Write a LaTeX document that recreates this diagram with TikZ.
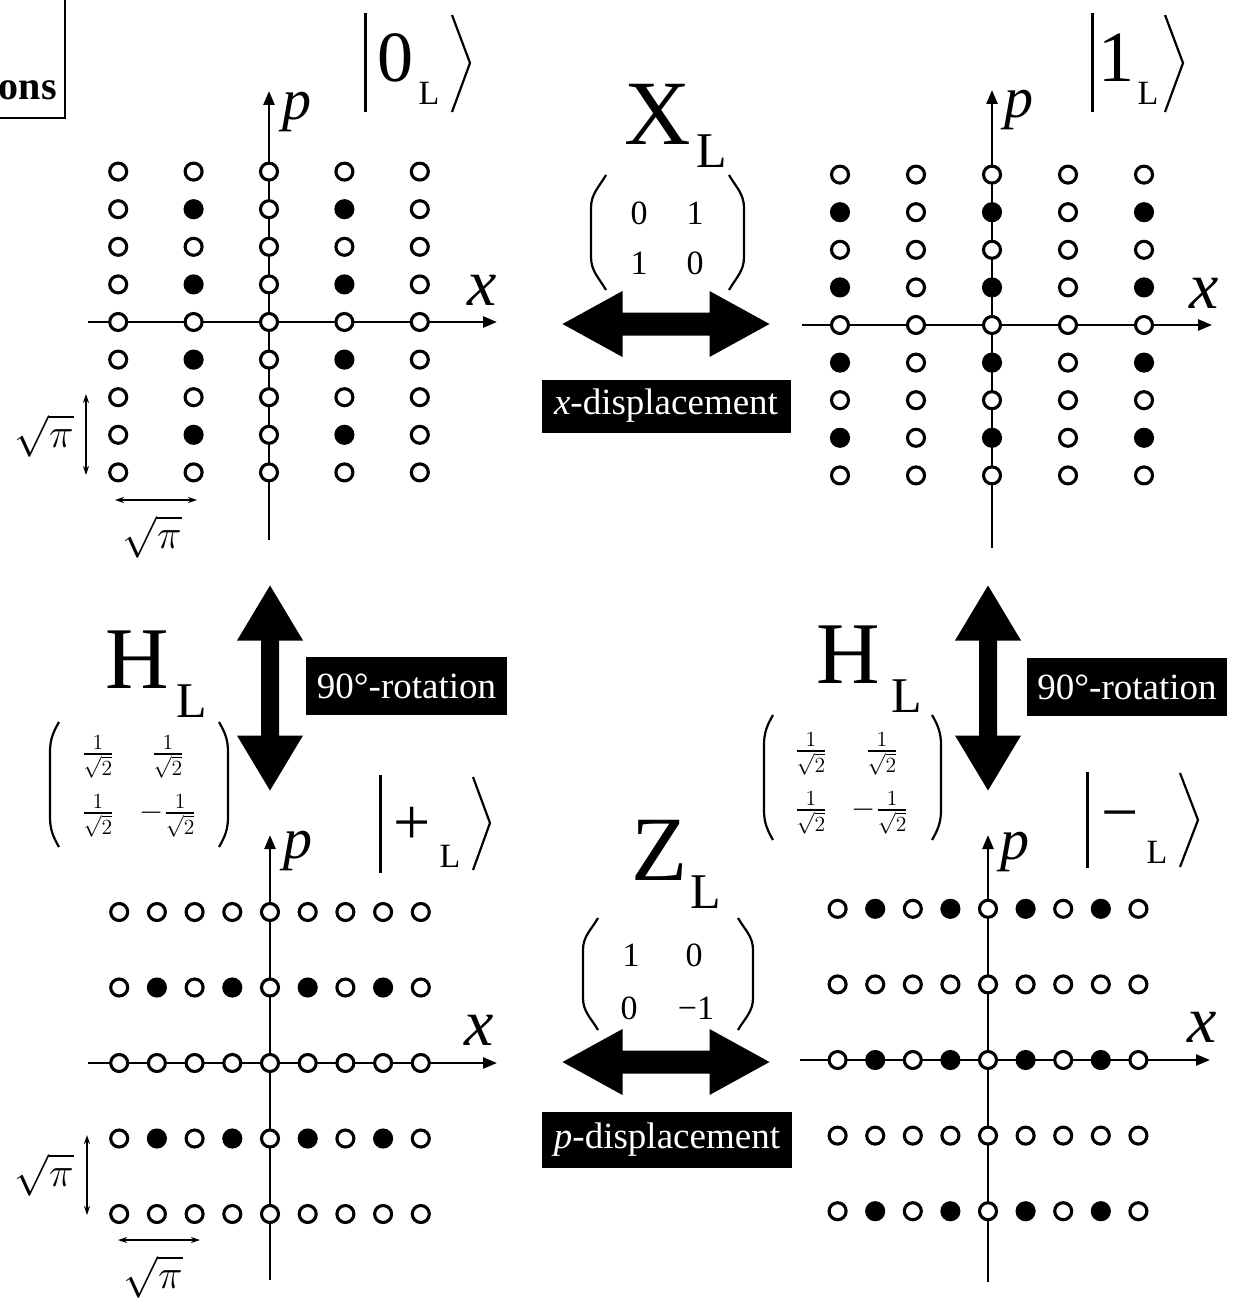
\documentclass[tikz,border=0pt]{standalone}
\usepackage{amsmath}
\usepackage{graphicx}
\usepackage{fontspec}
\setmainfont{Liberation Serif}
\usetikzlibrary{arrows.meta}
\newcommand\myfs[1]{\fontsize{#1}{#1}\selectfont}
\newcommand\sqpi{\scalebox{2}{\myfs{20}$\sqrt{\pi}$}}
\newcommand\hfr{\scalebox{1.8}{\myfs{18}$\tfrac{1}{\sqrt{2}}$}}
\newcommand\mhfr{\scalebox{1.8}{\myfs{18}$-\tfrac{1}{\sqrt{2}}$}}
\begin{document}
\begin{tikzpicture}[x=1pt,y=-1pt,
  odot/.style={circle,draw,line width=3.1pt,fill=white,minimum size=17pt,inner sep=0pt},
  fdot/.style={circle,draw,line width=3.1pt,fill=black,minimum size=17pt,inner sep=0pt},
  d0/.style={odot}, d1/.style={fdot},
  axis/.style={line width=2.6pt,-{Triangle[length=14pt,width=11pt]}},
  dim/.style={line width=1.4pt,{Stealth[length=9pt,width=6pt]}-{Stealth[length=9pt,width=6pt]}},
  blk/.style={fill=black,text=white,inner sep=0pt,font={\myfs{37}}},
  ketbar/.style={line width=3pt},
  ketang/.style={line width=2.2pt,line join=miter},
  paren/.style={line width=2.2pt},
  txt/.style={inner sep=0pt,anchor=base},
  lbl/.style={inner sep=0pt},
  hdbl/.pic={\fill (-103.5,0) -- (-43.5,-33) -- (-43.5,-11.5) -- (43.5,-11.5) -- (43.5,-33) -- (103.5,0) -- (43.5,33) -- (43.5,11.5) -- (-43.5,11.5) -- (-43.5,33) -- cycle;},
  vdbl/.pic={\fill (0,-102.5) -- (33,-47.5) -- (9,-47.5) -- (9,47.5) -- (33,47.5) -- (0,102.5) -- (-33,47.5) -- (-9,47.5) -- (-9,-47.5) -- (-33,-47.5) -- cycle;},
]
\useasboundingbox (0,0) rectangle (1236,1311);

% ---------- title box fragment ----------
\draw[line width=1.5pt] (65,-5) -- (65,118) -- (-5,118);
\node[anchor=base east,inner sep=0pt] (ttl) at (57,100) {\myfs{40}\bfseries ons};

% ---------- axes ----------
\coordinate (tlxa) at (88,322);  \coordinate (tlxb) at (497,322);
\coordinate (tlpa) at (269,540); \coordinate (tlpb) at (269,91);
\coordinate (trxa) at (802,325); \coordinate (trxb) at (1212,325);
\coordinate (trpa) at (992,548); \coordinate (trpb) at (992,90);
\coordinate (blxa) at (88,1063); \coordinate (blxb) at (497,1063);
\coordinate (blpa) at (270,1280);\coordinate (blpb) at (270,835);
\coordinate (brxa) at (800,1060);\coordinate (brxb) at (1210,1060);
\coordinate (brpa) at (988,1282);\coordinate (brpb) at (988,835);
\foreach \a/\b in {tlxa/tlxb,tlpa/tlpb,trxa/trxb,trpa/trpb,blxa/blxb,blpa/blpb,brxa/brxb,brpa/brpb}
  \draw[axis] (\a) -- (\b);

% ---------- lattices ----------
\foreach \i in {-2,...,2}{
  \foreach \j in {-4,...,4}{
    \pgfmathtruncatemacro\f{(abs(\i)==1)&&(mod(abs(\j),2)==1)}
    \node[d\f] (tl-\i-\j) at ({269+75.4*\i},{322+37.6*\j}) {};
    \pgfmathtruncatemacro\g{(mod(abs(\i),2)==0)&&(mod(abs(\j),2)==1)}
    \node[d\g] (tr-\i-\j) at ({992+76*\i},{325+37.6*\j}) {};
  }}
\foreach \i in {-4,...,4}{
  \foreach \j in {-2,...,2}{
    \pgfmathtruncatemacro\f{(mod(abs(\i),2)==1)&&(abs(\j)==1)}
    \node[d\f] (bl-\i-\j) at ({270+37.7*\i},{1063+75.5*\j}) {};
    \pgfmathtruncatemacro\g{(mod(abs(\i),2)==1)&&(mod(abs(\j),2)==0)}
    \node[d\g] (br-\i-\j) at ({988+37.6*\i},{1060+75.6*\j}) {};
  }}

% ---------- axis labels ----------
\node[lbl] (tlp) at (297,112) {\myfs{58}\textit{p}};
\node[lbl] (tlx) at (482,290) {\myfs{66}\textit{x}};
\node[lbl] (trp) at (1019,110) {\myfs{58}\textit{p}};
\node[lbl] (trx) at (1204,293) {\myfs{66}\textit{x}};
\node[lbl] (blp) at (298,851) {\myfs{58}\textit{p}};
\node[lbl] (blx) at (479,1030) {\myfs{66}\textit{x}};
\node[lbl] (brp) at (1015,852) {\myfs{58}\textit{p}};
\node[lbl] (brx) at (1202,1027) {\myfs{66}\textit{x}};

% ---------- sqrt(pi) dimension marks ----------
\coordinate (tlva) at (86,394);  \coordinate (tlvb) at (86,475);
\coordinate (tlha) at (115,500); \coordinate (tlhb) at (197,500);
\coordinate (blva) at (87,1135); \coordinate (blvb) at (87,1215);
\coordinate (blha) at (118,1240);\coordinate (blhb) at (200,1240);
\draw[dim] (tlva) -- (tlvb);
\draw[dim] (tlha) -- (tlhb);
\draw[dim] (blva) -- (blvb);
\draw[dim] (blha) -- (blhb);
\node[lbl] (tlvl) at (44,436) {\sqpi};
\node[lbl] (tlhl) at (152,537) {\sqpi};
\node[lbl] (blvl) at (44,1175) {\sqpi};
\node[lbl] (blhl) at (153,1277) {\sqpi};

% ---------- kets ----------
\draw[ketbar] (365,13) -- (365,112);
\node[txt] (k0) at (395,82) {\myfs{72}0};
\node[txt] (k0L) at (429,105) {\myfs{34}L};
\draw[ketang] (452,15) -- (470,63) -- (452,112);

\draw[ketbar] (1092,13) -- (1092,112);
\node[txt] (k1) at (1116,82) {\myfs{72}1};
\node[txt] (k1L) at (1148,105) {\myfs{34}L};
\draw[ketang] (1165,15) -- (1183,63) -- (1165,112);

\draw[ketbar] (380,775) -- (380,873);
\node[txt] (kp) at (412,844) {\myfs{66}+};
\node[txt] (kpL) at (450,867) {\myfs{34}L};
\draw[ketang] (473,777) -- (490,823) -- (473,870);

\draw[ketbar] (1087,772) -- (1087,868);
\node[txt] (km) at (1120,834) {\myfs{66}−};
\node[txt] (kmL) at (1157,863) {\myfs{34}L};
\draw[ketang] (1180,773) -- (1198,820) -- (1180,867);

% ---------- X_L ----------
\node[txt] (XL) at (658,144) {\myfs{92}X};
\node[txt] (XLs) at (712,167) {\myfs{50}L};
\draw[paren] (606,175) to[out=240,in=90] (591,208) -- (591,257) to[out=270,in=120] (606,290);
\draw[paren] (729,175) to[out=-60,in=90] (744,208) -- (744,257) to[out=-90,in=60] (729,290);
\node[lbl] (x11) at (639,213) {\myfs{34}0};
\node[lbl] (x12) at (695,213) {\myfs{34}1};
\node[lbl] (x21) at (639,263) {\myfs{34}1};
\node[lbl] (x22) at (695,263) {\myfs{34}0};
\pic at (666,324) {hdbl};
\node[blk,minimum width=249pt,minimum height=53pt] (xdisp) at (666,406) {\textit{x}-displacement};

% ---------- Z_L ----------
\node[txt] (ZL) at (660,880) {\myfs{92}Z};
\node[txt] (ZLs) at (706,908) {\myfs{50}L};
\draw[paren] (598,918) to[out=240,in=90] (583,950) -- (583,998) to[out=270,in=120] (598,1030);
\draw[paren] (738,918) to[out=-60,in=90] (753,950) -- (753,998) to[out=-90,in=60] (738,1030);
\node[lbl] (z11) at (631,955) {\myfs{34}1};
\node[lbl] (z12) at (694,955) {\myfs{34}0};
\node[lbl] (z21) at (629,1008) {\myfs{34}0};
\node[lbl] (z22) at (696,1008) {\myfs{34}−1};
\pic at (666,1062) {hdbl};
\node[blk,minimum width=250pt,minimum height=56pt] (pdisp) at (667,1140) {\textit{p}-displacement};

% ---------- H_L left ----------
\node[txt] (HL1) at (137,688) {\myfs{88}H};
\node[txt] (HL1s) at (192,717) {\myfs{50}L};
\draw[paren] (59,722) to[out=240,in=90] (50,752) -- (50,817) to[out=270,in=120] (59,847);
\draw[paren] (219,722) to[out=-60,in=90] (228,752) -- (228,817) to[out=-90,in=60] (219,847);
\node[lbl] (h111) at (98,757) {\hfr};
\node[lbl] (h112) at (168,757) {\hfr};
\node[lbl] (h121) at (98,816) {\hfr};
\node[lbl] (h122) at (168,816) {\mhfr};
\pic at (270,688) {vdbl};
\node[blk,minimum width=201pt,minimum height=58pt] (rot1) at (406.5,686) {90°-rotation};

% ---------- H_L right ----------
\node[txt] (HL2) at (848,683) {\myfs{88}H};
\node[txt] (HL2s) at (907,712) {\myfs{50}L};
\draw[paren] (773,715) to[out=240,in=90] (764,745) -- (764,810) to[out=270,in=120] (773,840);
\draw[paren] (932,715) to[out=-60,in=90] (941,745) -- (941,810) to[out=-90,in=60] (932,840);
\node[lbl] (h211) at (811,754) {\hfr};
\node[lbl] (h212) at (882,754) {\hfr};
\node[lbl] (h221) at (811,813) {\hfr};
\node[lbl] (h222) at (880,813) {\mhfr};
\pic at (988,688) {vdbl};
\node[blk,minimum width=200pt,minimum height=58pt] (rot2) at (1127,687) {90°-rotation};

\end{tikzpicture}
\end{document}
